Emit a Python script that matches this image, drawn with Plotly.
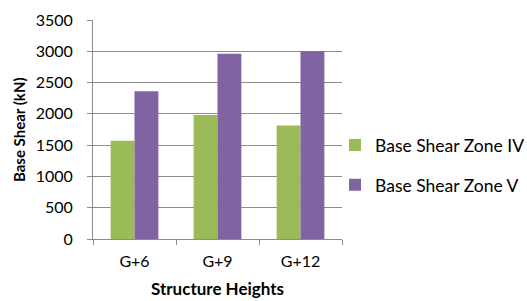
import plotly.graph_objects as go

categories = ["G+6", "G+9", "G+12"]
zone_iv = [1570, 1980, 1815]
zone_v = [2360, 2960, 3000]
series_names = ["Base Shear Zone IV", "Base Shear Zone V"]
y_ticks = [0, 500, 1000, 1500, 2000, 2500, 3000, 3500]

FONT = "Lato"
GRID = "#8c8c8c"

fig = go.Figure()
fig.add_trace(go.Bar(x=categories, y=zone_iv, name=series_names[0],
                     marker=dict(color="#9BBB59", line=dict(width=0)), legendgroup="a"))
fig.add_trace(go.Bar(x=categories, y=zone_v, name=series_names[1],
                     marker=dict(color="#8064A2", line=dict(width=0)), legendgroup="b"))

fig.update_layout(
    width=527, height=301,
    margin=dict(l=93, r=185, t=20, b=62, autoexpand=False),
    paper_bgcolor="white", plot_bgcolor="white",
    barmode="group", bargap=0.425, bargroupgap=0,
    font=dict(family=FONT, size=16, color="#000000"),
    legend=dict(x=0.972, xanchor="left", y=0.337, yanchor="middle",
                font=dict(family=FONT, size=17.5), tracegroupgap=14,
                itemwidth=30, bgcolor="rgba(0,0,0,0)"),
    xaxis=dict(
        type="category", showline=True, linecolor=GRID, linewidth=1,
        ticks="outside", tickson="boundaries", ticklen=5, tickcolor=GRID,
        tickfont=dict(family=FONT, size=16), ticklabelstandoff=8,
        showgrid=False, zeroline=False, automargin=False,
    ),
    yaxis=dict(
        range=[0, 3500], tickvals=y_ticks, showline=True, linecolor=GRID, linewidth=1,
        ticks="outside", ticklen=5, tickcolor=GRID,
        showgrid=True, gridcolor=GRID, gridwidth=1, zeroline=False,
        tickfont=dict(family=FONT, size=16), ticklabelstandoff=11, automargin=False,
    ),
    annotations=[
        dict(text="<b>Structure Heights</b>", xref="paper", yref="paper", x=0.5, y=0,
             xanchor="center", yanchor="middle", yshift=-49, showarrow=False,
             font=dict(family=FONT, size=17)),
        dict(text="<b>Base Shear (kN)</b>", xref="paper", yref="paper", x=0, y=0.5,
             xanchor="center", yanchor="middle", xshift=-74.5, textangle=-90, showarrow=False,
             font=dict(family=FONT, size=15)),
    ],
)

fig.write_html("out.html", config={"displayModeBar": False},
               post_script="document.body.style.margin='0';")
